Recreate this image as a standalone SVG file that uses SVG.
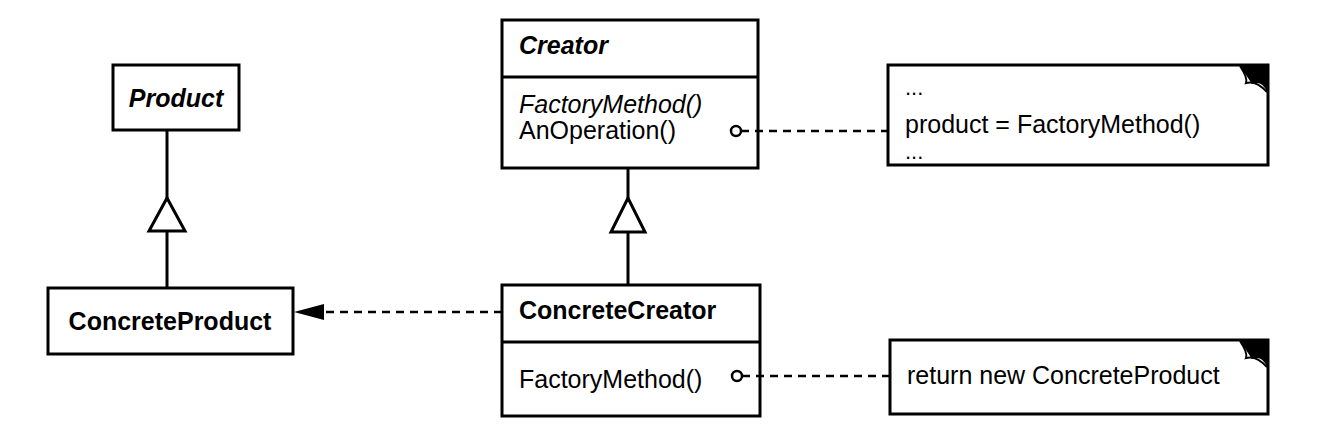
<svg xmlns="http://www.w3.org/2000/svg" width="1328" height="433" viewBox="0 0 1328 433">
<defs>
<style>
.box{fill:#fff;stroke:#000;stroke-width:3}
.ln{fill:none;stroke:#000;stroke-width:3}
.dash{fill:none;stroke:#000;stroke-width:2.5;stroke-dasharray:8 6}
.t{font-family:"Liberation Sans",Arial,sans-serif;font-size:25px;fill:#000}
.d{font-size:22px}
.b{font-weight:bold}
.i{font-style:italic}
</style>
</defs>
<rect width="1328" height="433" fill="#fff"/>
<g id="product">
<rect class="box" x="113" y="65" width="126" height="65"/>
<text class="t b i" x="176" y="107" text-anchor="middle">Product</text>
</g>
<g id="concreteproduct">
<rect class="box" x="48" y="288" width="245" height="66"/>
<text class="t b" x="170" y="330" text-anchor="middle">ConcreteProduct</text>
</g>
<g id="creator">
<rect class="box" x="502" y="20" width="256" height="148"/>
<line class="ln" x1="502" y1="77" x2="758" y2="77"/>
<text class="t b i" x="519" y="54">Creator</text>
<text class="t i" x="519" y="113">FactoryMethod()</text>
<text class="t" x="519" y="139">AnOperation()</text>
</g>
<g id="concretecreator">
<rect class="box" x="502" y="285" width="258" height="131"/>
<line class="ln" x1="502" y1="342" x2="760" y2="342"/>
<text class="t b" x="519" y="319">ConcreteCreator</text>
<text class="t" x="519" y="388">FactoryMethod()</text>
</g>
<g id="note1">
<path class="box" d="M888,65 L1268,65 L1268,165 L888,165 Z"/>
<path d="M1240,66 L1267,66 L1267,92 Q1262,80 1252,84 Z" fill="#000"/>
<path d="M1240,66 Q1248,78 1246,83 Q1256,80 1267,92" fill="none" stroke="#000" stroke-width="2"/>
<text class="t d" x="905" y="95">...</text>
<text class="t" x="905" y="133">product = FactoryMethod()</text>
<text class="t d" x="905" y="159">...</text>
</g>
<g id="note2">
<path class="box" d="M890,340 L1268,340 L1268,414 L890,414 Z"/>
<path d="M1240,341 L1267,341 L1267,367 Q1262,355 1252,359 Z" fill="#000"/>
<path d="M1240,341 Q1248,353 1246,358 Q1256,355 1267,367" fill="none" stroke="#000" stroke-width="2"/>
<text class="t" x="907" y="384">return new ConcreteProduct</text>
</g>
<g id="connectors">
<line class="ln" x1="167" y1="130" x2="167" y2="198"/>
<path class="ln" d="M167,198 L149,231 L185,231 Z" fill="#fff"/>
<line class="ln" x1="167" y1="231" x2="167" y2="288"/>
<line class="ln" x1="628" y1="168" x2="628" y2="198"/>
<path class="ln" d="M628,198 L611,232 L645,232 Z" fill="#fff"/>
<line class="ln" x1="628" y1="232" x2="628" y2="285"/>
<line class="dash" x1="502" y1="312" x2="323" y2="312"/>
<path d="M294,312 L324,304 L324,320 Z" fill="#000"/>
<circle cx="736" cy="131" r="5" fill="#fff" stroke="#000" stroke-width="2.5"/>
<line class="dash" x1="741" y1="131" x2="888" y2="131"/>
<circle cx="737" cy="376" r="5" fill="#fff" stroke="#000" stroke-width="2.5"/>
<line class="dash" x1="742" y1="376" x2="890" y2="376"/>
</g>
</svg>
